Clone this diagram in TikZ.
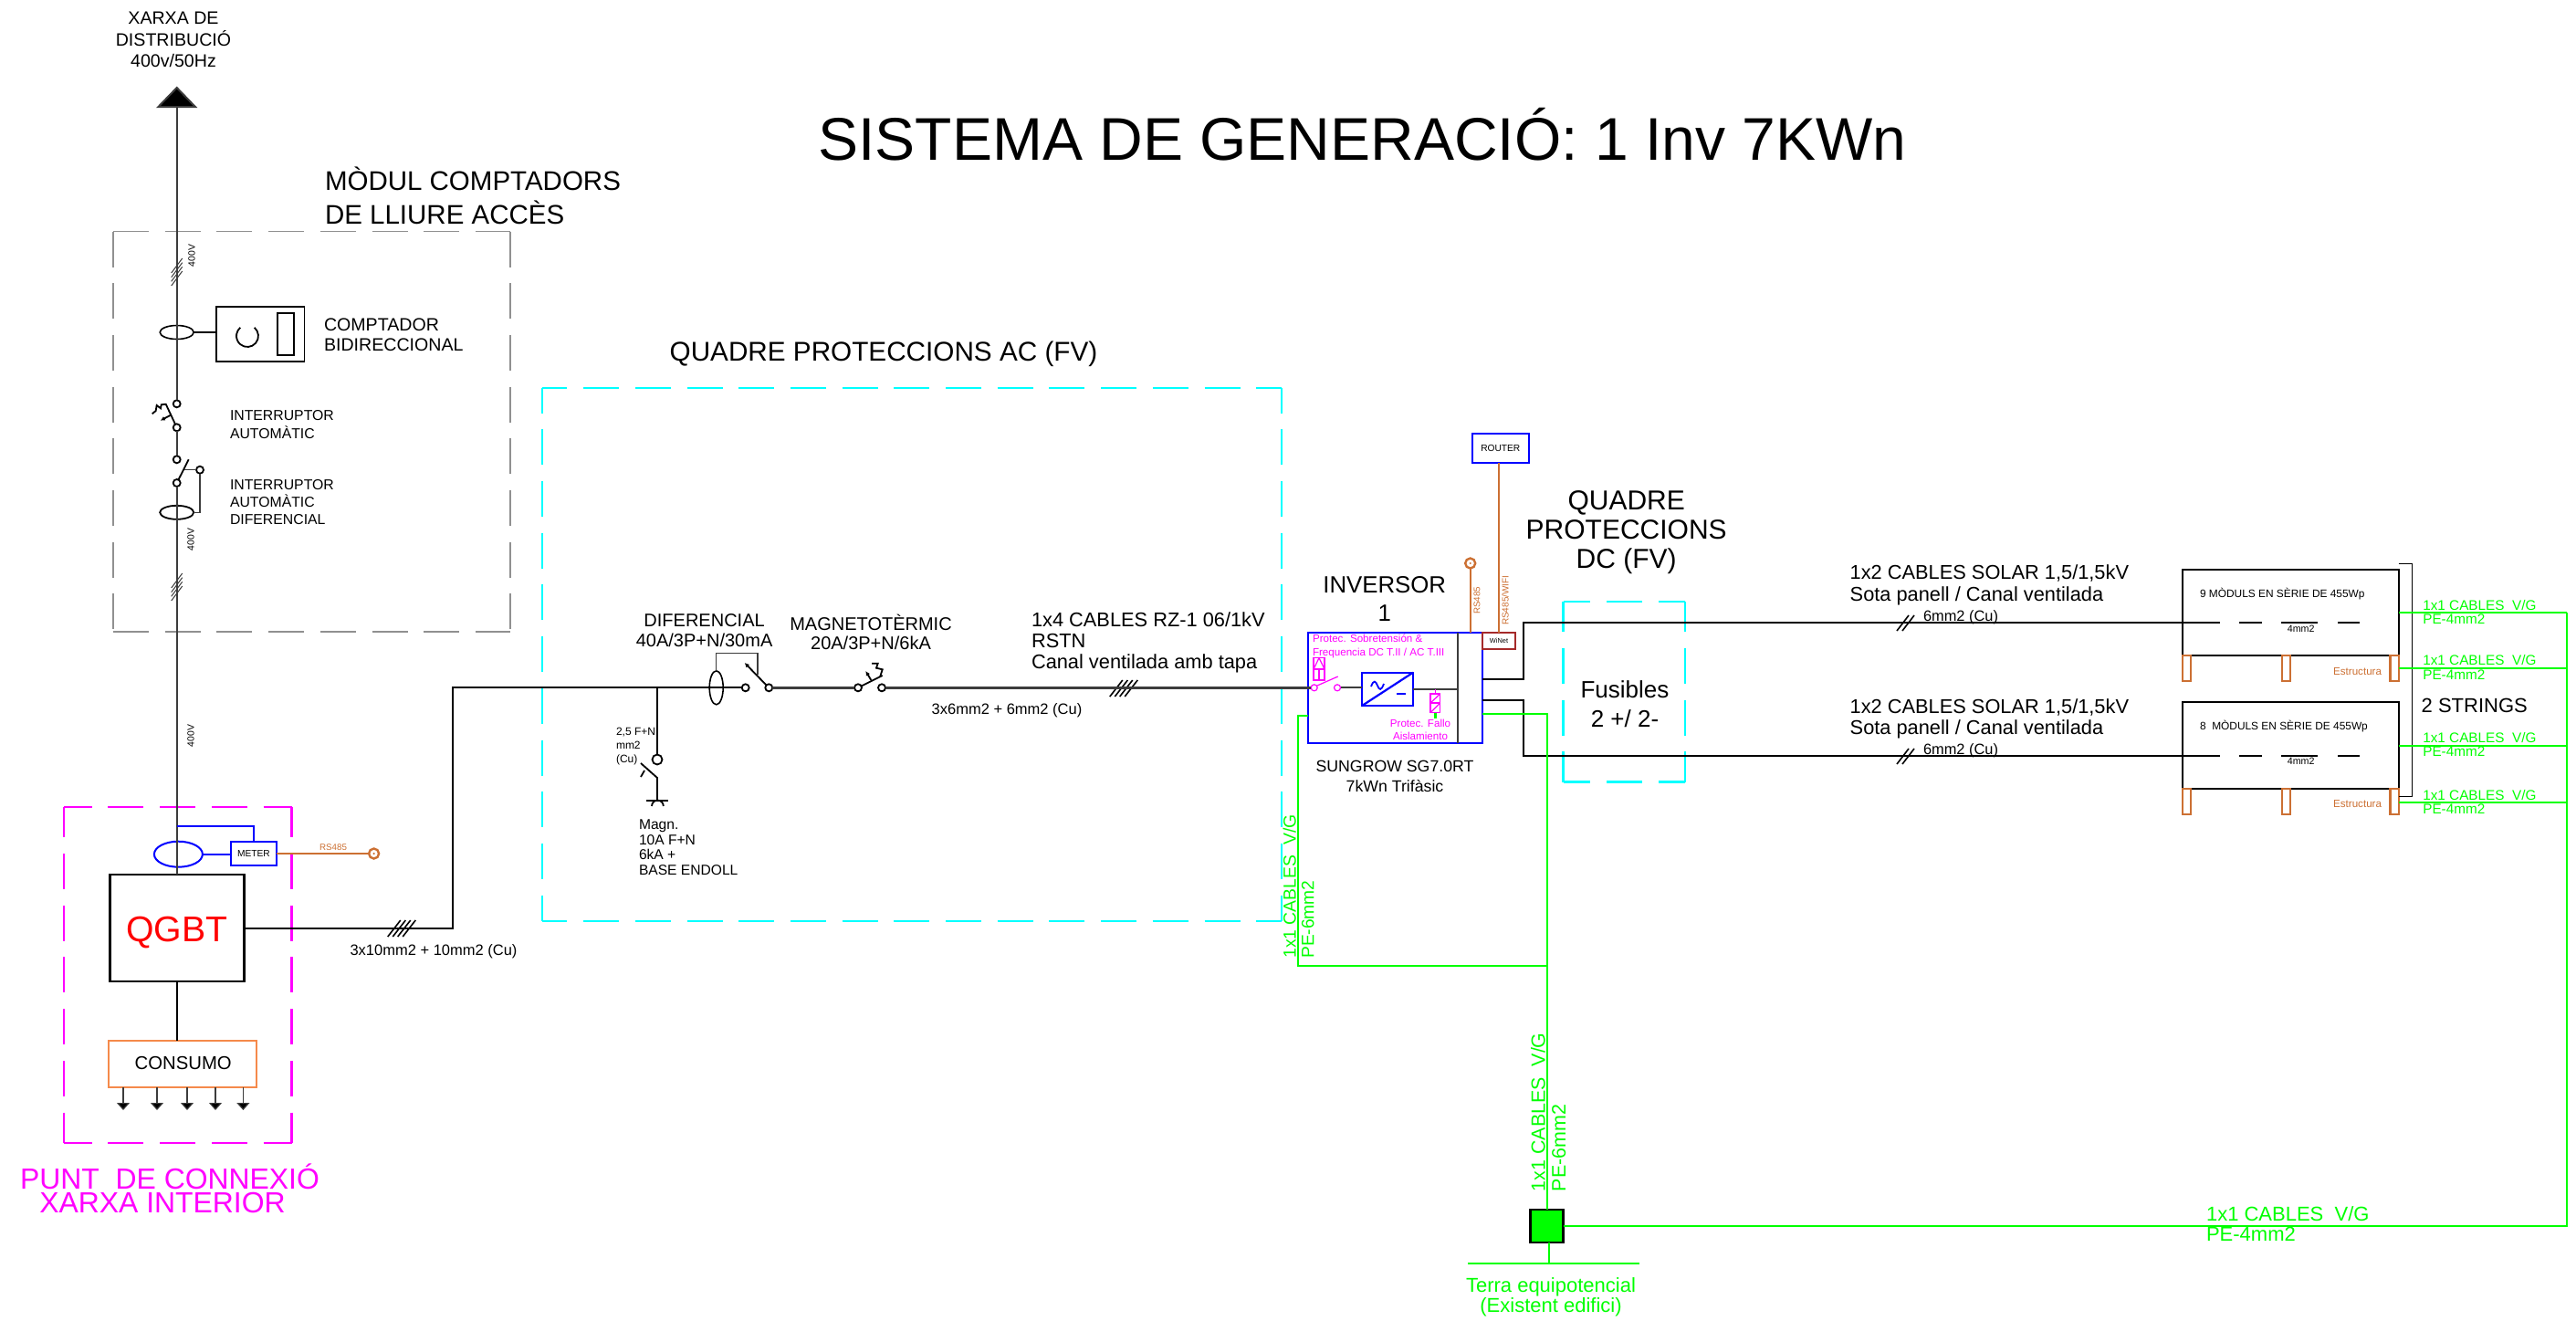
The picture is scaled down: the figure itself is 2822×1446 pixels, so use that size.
\documentclass[tikz,border=0pt]{standalone}
\usepackage{fontspec}
\setmainfont{Liberation Sans}
\usetikzlibrary{arrows.meta,shapes.geometric}
\definecolor{pvmag}{HTML}{FF00FF}
\definecolor{pvcyan}{HTML}{00FFFF}
\definecolor{pvgreen}{HTML}{00FF00}
\definecolor{pvblue}{HTML}{0000FF}
\definecolor{pvorange}{HTML}{CC7033}
\definecolor{pvload}{HTML}{F58A4B}
\definecolor{pvbrown}{HTML}{A52A2A}
\definecolor{pvgray}{HTML}{909090}
\definecolor{pvline}{HTML}{3C3C3C}

\begin{document}
\begin{tikzpicture}[x=0.5pt, y=-0.5pt, every node/.style={inner sep=0, outer sep=0},
  fs/.style 2 args={font=\fontsize{#1}{#2}\selectfont},
  lab/.style={align=center},
  labl/.style={align=left, anchor=west},
  boxwh/.style 2 args={minimum width=#1*0.5pt, minimum height=#2*0.5pt},
  zone/.style={draw=#1, line width=1.2pt, dash pattern=on 19.5pt off 8.85pt},
  wire/.style={draw=black, line width=1pt},
  feed/.style={draw=pvline, line width=1pt},
  pe/.style={draw=pvgreen, line width=1.1pt},
  bus/.style={draw=pvorange, line width=1.2pt},
  surge/.style={draw=pvmag, line width=0.6pt},
  term/.style={circle, draw=black, fill=white, line width=0.9pt, minimum size=4pt},
  rsend/.style={circle, draw=pvorange, line width=1.2pt, minimum size=5.5pt},
  foot/.style={draw=pvorange, line width=1.1pt, boxwh={9.3}{27.7}},
  pvbox/.style={draw=black, line width=1.1pt, boxwh={237}{#1}},
  loadtip/.style={-{Triangle[width=7pt,length=4pt,fill=black]}}]

\useasboundingbox (0,0) rectangle (2822,1446);

\node[boxwh={435}{438.5}] (modul) at (341.5,472.8) {};
\node[boxwh={810}{584}] (quadac) at (998.8,717) {};
\node[boxwh={133.3}{197.7}] (quaddc) at (1779.3,757.8) {};
\node[boxwh={249.6}{368}] (punt) at (194.8,1068) {};
\foreach \zn/\zc/\zh/\zv/\zw in {modul/pvgray/0/0/0.8, punt/pvmag/4.15/2.85/1.2, quadac/pvcyan/5.7/5.7/1.2, quaddc/pvcyan/4.65/2.85/1.2} {
  \draw[zone=\zc, line width=\zw pt, dash phase=\zh pt] (\zn.north west) -- (\zn.north east);
  \draw[zone=\zc, line width=\zw pt, dash phase=\zh pt] (\zn.south west) -- (\zn.south east);
  \draw[zone=\zc, line width=\zw pt, dash phase=\zv pt] (\zn.north west) -- (\zn.south west);
  \draw[zone=\zc, line width=\zw pt, dash phase=\zv pt] (\zn.north east) -- (\zn.south east);
}

\node[fs={33}{40}] (title) at (1492.5,147) {SISTEMA DE GENERACIÓ: 1 Inv 7KWn};
\node[lab, fs={9.8}{11.8}] (xarxa) at (190,43.5) {XARXA DE\\DISTRIBUCIÓ\\400v/50Hz};
\node[labl, fs={14.75}{18.3}] (modultxt) at (356,214.5) {MÒDUL COMPTADORS\\DE LLIURE ACCÈS};
\node[lab, fs={14.85}{18}] (quadactxt) at (968,388) {QUADRE PROTECCIONS AC (FV)};
\node[lab, fs={15}{16}] (quaddctxt) at (1781.7,583) {QUADRE\\PROTECCIONS\\DC (FV)};
\node[lab, fs={12.9}{15.5}] (invtxt) at (1516.7,656) {INVERSOR\\1};
\node[lab, fs={13}{15.9}] (fusibles) at (1780,771) {Fusibles\\2 +/ 2-};

\node[draw=black, line width=0.8pt, boxwh={96.5}{60}] (compt) at (285.2,366) {};
\node[draw=black, line width=0.6pt, boxwh={18}{46}] (comptd) at (313,366) {};
\draw[line width=0.9pt] (278.7,358.8) arc[start angle=50, end angle=-230, radius=6pt];
\node[draw=black, line width=0.8pt, ellipse, boxwh={37}{15}] (ct1) at (193.7,364) {};
\node[draw=black, line width=0.9pt, ellipse, boxwh={37}{15}] (ct2) at (193.7,561.3) {};
\node[labl, fs={9.8}{11}] (compttxt) at (355,367) {COMPTADOR\\BIDIRECCIONAL};
\node[labl, fs={7.9}{10}] (int1txt) at (252,465) {INTERRUPTOR\\AUTOMÀTIC};
\node[labl, fs={7.9}{9.3}] (int2txt) at (252,550) {INTERRUPTOR\\AUTOMÀTIC\\DIFERENCIAL};
\node[fs={5.2}{6}, rotate=90] (volt1) at (210,280) {400V};
\node[fs={5.2}{6}, rotate=90] (volt2) at (209,591) {400V};
\node[fs={5.2}{6}, rotate=90] (volt3) at (209,806) {400V};

\node[term] (k1a) at (193.7,442.3) {};
\node[term] (k1b) at (193.7,468.3) {};
\node[term] (k2a) at (193.7,503.3) {};
\node[term] (k2b) at (193.7,529) {};
\node[term] (k2c) at (219,514.7) {};
\coordinate (gridtip) at (193.7,94.6);

\node[draw=black, line width=1.3pt, boxwh={147}{117}] (qgbt) at (193.7,1016.5) {};
\node[lab, fs={19.6}{22}, text=red] (qgbttxt) at (193.7,1022) {QGBT};
\node[draw=pvload, line width=0.8pt, boxwh={162}{51}] (consumo) at (200,1165.5) {};
\node[lab, fs={10.15}{12}] (consumotxt) at (200.7,1164) {CONSUMO};
\node[draw=pvblue, line width=1pt, boxwh={50}{26}] (meter) at (278,935) {};
\node[lab, fs={5.1}{6}] (metertxt) at (278,935) {METER};
\node[draw=pvblue, line width=1pt, ellipse, boxwh={53}{28}] (ct3) at (195.4,935.7) {};
\node[rsend] (rs1) at (409.6,935) {};
\node[lab, fs={4.9}{6}, text=pvorange] (rs1txt) at (365,928) {RS485};
\node[lab, fs={8.25}{10}] (cable10) at (475,1042) {3x10mm2 + 10mm2 (Cu)};
\node[lab, fs={15.95}{14.5}, text=pvmag] (punttxt1) at (186,1289) {PUNT~ DE CONNEXIÓ};
\node[lab, fs={15.95}{14.5}, text=pvmag] (punttxt2) at (178,1318) {XARXA INTERIOR};

\node[draw=black, line width=0.8pt, ellipse, boxwh={15}{37}] (ct4) at (784.7,753.3) {};
\node[term] (d1a) at (816.7,753.3) {};
\node[term] (d1b) at (842.3,753.3) {};
\node[term] (m1a) at (940,753.3) {};
\node[term] (m1b) at (966,753.3) {};
\node[term, minimum size=5.5pt] (skt) at (720,832) {};
\coordinate (acturn) at (495.7,753.3);
\coordinate (sktjoin) at (720,753.3);
\node[lab, fs={10}{11}] (diftxt) at (771.6,691) {DIFERENCIAL\\40A/3P+N/30mA};
\node[lab, fs={10}{10.5}] (magtxt) at (954,692.5) {MAGNETOTÈRMIC\\20A/3P+N/6kA};
\node[labl, fs={10.9}{11.6}] (cable4) at (1130,704) {1x4 CABLES RZ-1 06/1kV\\RSTN\\Canal ventilada amb tapa};
\node[lab, fs={8.25}{10}] (cable6) at (1103,778) {3x6mm2 + 6mm2 (Cu)};
\node[labl, fs={6}{7.5}] (sktsec) at (675,818) {2,5 F+N\\mm2\\(Cu)};
\node[labl, fs={7.8}{8.3}] (skttxt) at (700,928) {Magn.\\10A F+N\\6kA +\\BASE ENDOLL};

\node[draw=pvblue, line width=1.1pt, boxwh={191.6}{121.3}] (inv) at (1528.5,753.3) {};
\node[draw=pvblue, line width=1.1pt, boxwh={56.3}{36.6}] (conv) at (1519.8,755) {};
\node[draw=pvbrown, fill=white, line width=1.1pt, boxwh={36}{18.3}] (winet) at (1642,701.8) {};
\node[fs={3.7}{5}] (winettxt) at (1642,701.8) {WiNet};
\node[draw=pvblue, line width=1.1pt, boxwh={62.3}{31.7}] (router) at (1643.8,490.8) {};
\node[fs={5.1}{6}] (routertxt) at (1643.8,490.8) {ROUTER};
\node[rsend] (rs2) at (1610.7,617) {};
\node[fs={4.9}{6}, rotate=90, text=pvorange] (rs2txt) at (1618,657.7) {RS485};
\node[fs={5}{6}, rotate=90, text=pvorange] (rs3txt) at (1649,657.7) {RS485/WIFI};
\node[labl, fs={5.8}{7.15}, text=pvmag] (prot1) at (1438,707.8) {Protec. Sobretensión \&\\Frequencia DC T.II / AC T.III};
\node[lab, fs={5.8}{7.15}, text=pvmag] (prot2) at (1556,799) {Protec. Fallo\\Aislamiento};
\node[lab, fs={8.85}{10.9}] (invmodel) at (1528,850) {SUNGROW SG7.0RT\\7kWn Trifàsic};
\node[term, draw=pvmag, fill=none, line width=0.6pt, minimum size=3.5pt] (s1a) at (1439.7,753.3) {};
\node[term, draw=pvmag, fill=none, line width=0.6pt, minimum size=3.5pt] (s1b) at (1465,753.3) {};
\coordinate (invbus) at (1596.7,755);
\coordinate (dca) at (1669.3,682.3);
\coordinate (dcb) at (1669.3,828);

\node[labl, fs={10.9}{11.7}] (dctxt1) at (2026.7,640.8) {1x2 CABLES SOLAR 1,5/1,5kV\\Sota panell / Canal ventilada};
\node[labl, fs={10.9}{11.7}] (dctxt2) at (2026.7,787.3) {1x2 CABLES SOLAR 1,5/1,5kV\\Sota panell / Canal ventilada};
\node[lab, fs={8.2}{10}] (dcsec1) at (2148,676) {6mm2 (Cu)};
\node[lab, fs={8.2}{10}] (dcsec2) at (2148,822) {6mm2 (Cu)};

\node[pvbox={94.3}] (mod1) at (2509.2,671.2) {};
\node[pvbox={95}] (mod2) at (2509.2,816.8) {};
\node[labl, fs={5.95}{7}] (mod1txt) at (2410,650.7) {9 MÒDULS EN SÈRIE DE 455Wp};
\node[labl, fs={5.95}{7}] (mod2txt) at (2410,795.7) {8~ MÒDULS EN SÈRIE DE 455Wp};
\node[fs={5.35}{6}] (mm1) at (2520.7,688.3) {4mm2};
\node[fs={5.35}{6}] (mm2) at (2520.7,834) {4mm2};
\foreach \fx/\fn in {2395.3/a,2504.7/b,2623.2/c} {
  \node[foot] (foot1\fn) at (\fx,732.2) {};
  \node[foot] (foot2\fn) at (\fx,878) {};
}
\node[anchor=east, fs={5.8}{7}, text=pvorange] (est1) at (2609,735.7) {Estructura};
\node[anchor=east, fs={5.8}{7}, text=pvorange] (est2) at (2609,881) {Estructura};
\node[labl, fs={11}{13}] (strings) at (2652.7,773.3) {2 STRINGS};
\coordinate (rail) at (2812.3,671.3);
\coordinate (brk) at (2642.3,617.3);
\coordinate (brkend) at (2642.3,872);

\foreach \ly/\ln in {670.3/a,731/b,815.5/c,878.5/d} {
  \node[labl, fs={7.65}{7.6}, text=pvgreen] (petxt\ln) at (2654.3,\ly) {1x1 CABLES~ V/G\\PE-4mm2};
}
\node[labl, fs={11}{11}, text=pvgreen] (petxte) at (2417,1341) {1x1 CABLES~ V/G\\PE-4mm2};
\node[anchor=west, rotate=90, fs={9.7}{10}, text=pvgreen] (pel1) at (1412.7,1049.7) {1x1 CABLES~ V/G};
\node[anchor=west, rotate=90, fs={9.6}{10}, text=pvgreen] (pel2) at (1432.7,1049.7) {PE-6mm2};
\node[anchor=west, rotate=90, fs={10.7}{11}, text=pvgreen] (pec1) at (1685,1305) {1x1 CABLES~ V/G};
\node[anchor=west, rotate=90, fs={10.7}{11}, text=pvgreen] (pec2) at (1707.7,1305) {PE-6mm2};
\node[draw=black, fill=pvgreen, line width=1.3pt, boxwh={36}{36}] (gnd) at (1694.7,1342.8) {};
\node[lab, fs={11}{11.2}, text=pvgreen] (terra) at (1699,1421) {Terra equipotencial\\(Existent edifici)};
\coordinate (earthl) at (1608,1384);
\coordinate (earthm) at (1697,1384);
\coordinate (earthr) at (1796,1384);
\coordinate (pedrop) at (1422.3,1057.6);
\coordinate (pejoin) at (1694.7,1057.6);

\begin{scope}
\draw[feed, -{Triangle[width=22.5pt,length=11.75pt,fill=black]}] (k1a) -- (gridtip);
\draw[feed] (k1b) -- (k2a);
\draw[feed] (k2b) -- (qgbt.north);
\draw[draw=black, line width=0.6pt] (ct1.east) -- (compt.west |- ct1.east);
\draw[line width=0.9pt] (k1b) -- (181.7,442.7) -- (176.7,443.3) -- (176,447.3) -- (171.7,444) -- (170.7,450) -- (166.7,453.3);
\draw[line width=0.9pt, -{Latex[length=2.5pt,width=2.5pt]}] (187.7,454.3) -- (175.7,460.7);
\draw[line width=0.9pt] (k2b) -- (206.7,503.3);
\draw[draw=pvline, line width=0.7pt] (201.7,514.7) -- (k2c);
\draw[draw=pvline, line width=0.7pt] (k2c) |- (ct2.east);
\foreach \hy in {-7,-2.3,2.3,7} {
  \draw[draw=pvline, line width=0.5pt] (187.7,298+\hy+8) -- (199.7,298+\hy-8);
  \draw[draw=pvline, line width=0.5pt] (187.7,643+\hy+8) -- (199.7,643+\hy-8);
}

\draw[draw=pvblue, line width=1pt] (193.7,905) -| (meter.north);
\draw[draw=pvblue, line width=1pt] (ct3.east) -- (meter.west |- ct3.east);
\draw[bus] (meter.east) -- (rs1);
\fill[pvorange] (rs1) circle (0.6pt);
\draw[wire, line width=1.1pt] (qgbt.south) -- (consumo.north -| qgbt.south);
\foreach \lx/\ln in {135/a,172/b,205/c,236/d,266.4/e} {
  \coordinate (load\ln) at (\lx,1216);
  \draw[feed, line width=0.6pt, loadtip] (consumo.south -| load\ln) -- (load\ln);
}

\draw[wire] (qgbt.east) -| (acturn) -- (d1a);
\foreach \hx in {-8.2,-2.7,2.7,8.2} {
  \draw[line width=0.8pt] (440+\hx-7,1026) -- (440+\hx+7,1008);
  \draw[line width=0.8pt] (1231+\hx-7,763) -- (1231+\hx+7,745);
}
\draw[wire] (sktjoin) -- (skt);
\draw[line width=0.9pt] (702,836) -- (720,852) -- (720,876);
\draw[line width=0.9pt] (702,851) -- (706,844);
\draw[line width=1.1pt] (708,877) -- (732,877);
\draw[line width=0.9pt] (714,883) arc[start angle=180, end angle=0, radius=3.2pt];
\draw[draw=pvline, line width=0.6pt] (ct4.north) -- (784.7,715.7) -- (830,715.7) -- (830,739.3);
\draw[line width=0.9pt, -{Latex[length=2.5pt,width=2.5pt]}] (d1b) -- (815.7,726);
\draw[draw=pvline, line width=1.5pt] (d1b) -- (m1a);
\draw[line width=0.9pt] (m1a) -- (966.7,740);
\draw[line width=0.9pt, -{Latex[length=2.5pt,width=2.5pt]}] (954.3,745) -- (948.3,735);
\draw[line width=0.9pt] (964,741.7) -- (966.7,733.3) -- (960,731.7) -- (961.7,726.7) -- (955,726.7);
\draw[draw=pvline, line width=1.5pt] (m1b) -- (s1a);
\end{scope}

\begin{scope}
\draw[draw=pvline, line width=1pt] (s1b) -- (conv.west |- s1b);
\draw[draw=pvblue, line width=1.1pt] (conv.south west) -- (conv.north east);
\draw[draw=pvblue, line width=0.9pt] (1502,752) .. controls (1505,744) and (1507,746) .. (1509,751) .. controls (1511,756) and (1513,757) .. (1516,749);
\draw[draw=pvblue, line width=0.9pt] (1530,760) -- (1540,760);
\draw[draw=pvline, line width=1pt] (conv.east) -- (invbus);
\draw[draw=pvline, line width=0.8pt] (invbus |- inv.north) -- (invbus |- inv.south);
\draw[surge] (1439,720.7) rectangle (1451,745);
\draw[surge] (1439,733) -- (1445,720.7) -- (1451,733);
\draw[surge] (1439,733) -- (1451,733);
\draw[surge] (1445,733) -- (1445,745);
\draw[surge] (1443,751) -- (1465.7,741);
\draw[surge] (1567,760) rectangle (1577.7,780.7);
\draw[surge] (1567,770) -- (1577.7,770);
\draw[surge] (1567,770) -- (1577.7,760);
\draw[surge] (1567,780.7) -- (1577.7,770);
\draw[surge] (1572.4,755) -- (1572.4,760);
\draw[pe] (1572.4,780.7) -- (1572.4,787);
\draw[bus] (rs2) -- (rs2 |- inv.north);
\fill[pvorange] (rs2) circle (0.6pt);
\draw[bus] (router.south -| winet.north) -- (winet.north);
\draw[wire] (inv.east |- 0,744.3) -| (dca) -- (2431.7,682.3);
\draw[wire] (inv.east |- 0,767.3) -| (dcb) -- (2431.7,828);
\foreach \da/\db in {2453/2477.7,2499.3/2539,2561/2585} {
  \draw[wire] (\da,682.3) -- (\db,682.3);
  \draw[wire] (\da,828) -- (\db,828);
}
\foreach \hx in {-3,3} {
  \draw[line width=0.8pt] (2087.5+\hx-6.5,691) -- (2087.5+\hx+6.5,674);
  \draw[line width=0.8pt] (2087.5+\hx-6.5,837) -- (2087.5+\hx+6.5,820);
}
\draw[line width=0.5pt] (mod1.north east |- brk) -- (brk) -- (brkend) -- (mod2.south east |- brkend);
\draw[pe] (inv.east |- 0,782.3) -| (gnd.north);
\draw[pe] (inv.west |- 0,784) -| (pedrop) -- (pejoin);
\draw[pe] (gnd.east) -| (rail);
\foreach \py in {671.3,732.3,817,879.3} {
  \draw[pe] (mod1.east |- 0,\py) -- (rail |- 0,\py);
}
\draw[pe] (gnd.south -| earthm) -- (earthm);
\draw[pe] (earthl) -- (earthr);
\end{scope}
\end{tikzpicture}
\end{document}
